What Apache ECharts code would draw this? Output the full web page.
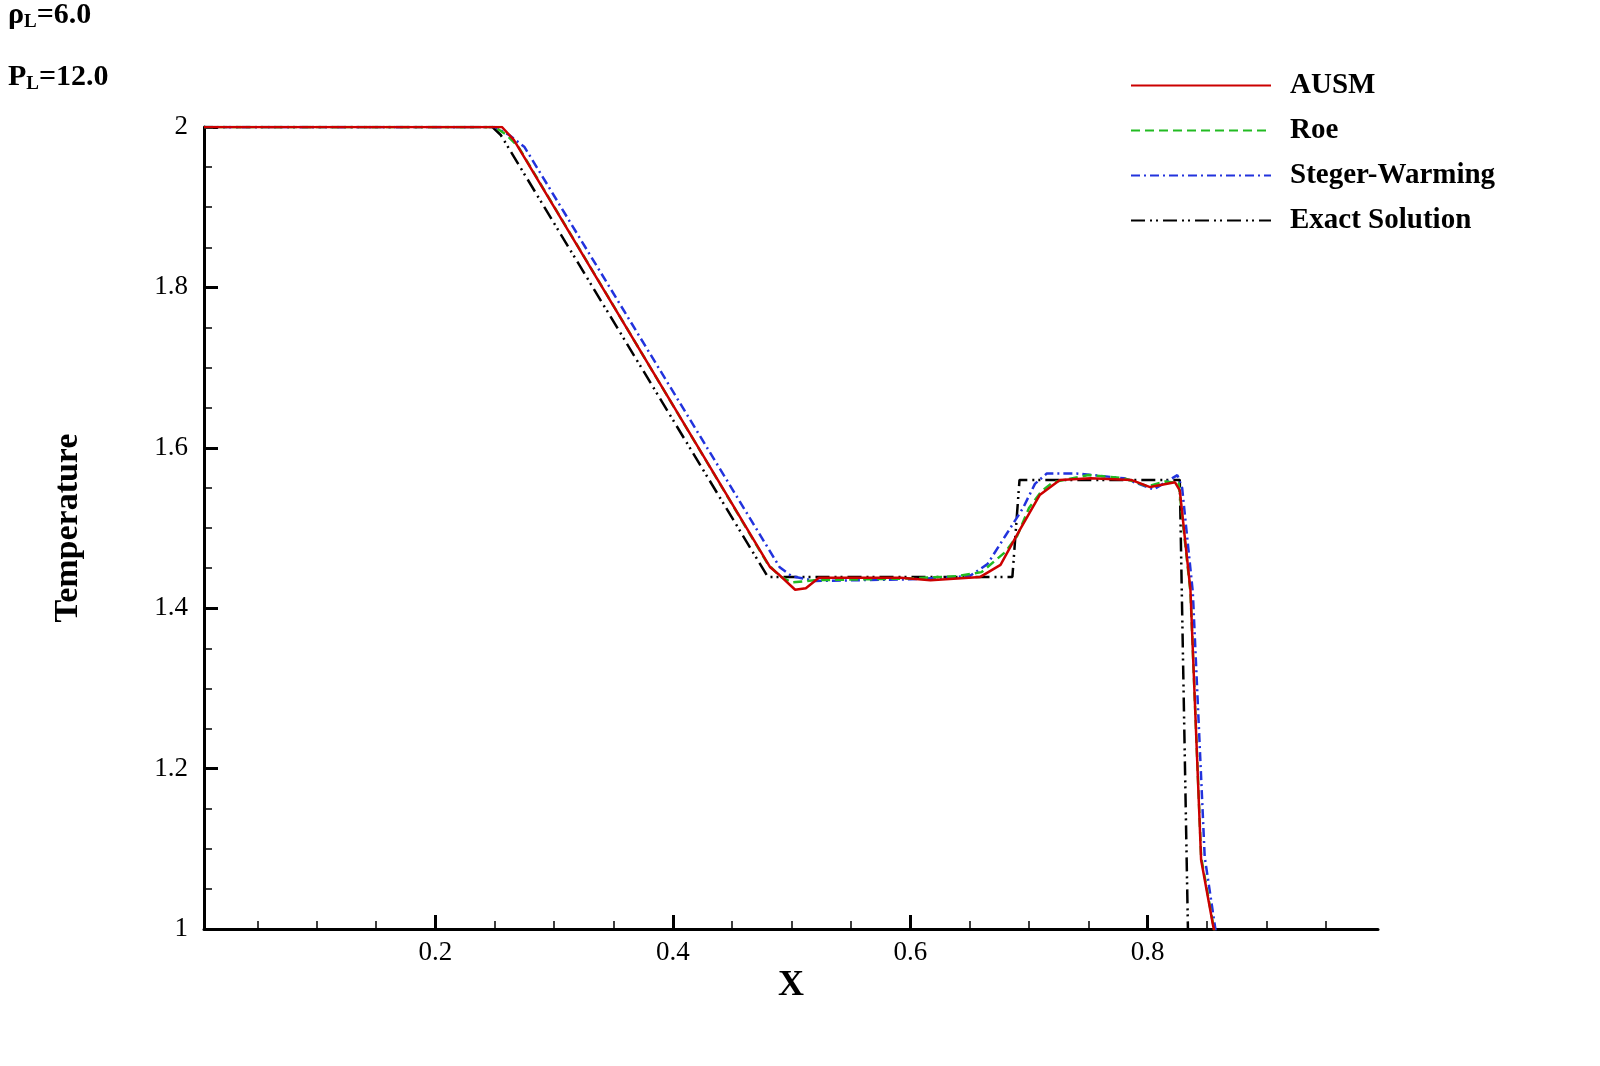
<!DOCTYPE html>
<html><head><meta charset="utf-8">
<script src="https://cdn.jsdelivr.net/npm/echarts@6/dist/echarts.min.js"></script>
<style>html,body{margin:0;padding:0;background:#fff}#c{width:1600px;height:1066px}</style>
</head><body><div id="c"></div>
<script>
const xExact=[0.005,0.248,0.255,0.480,0.686,0.692,0.827,0.834];
const yExact=[2.0,2.0,1.99,1.439,1.439,1.560,1.560,0.99];
const xAUSM=[0.005,0.256,0.266,0.482,0.490,0.503,0.512,0.523,0.592,0.617,0.659,0.676,0.692,0.709,0.726,0.752,0.786,0.802,0.823,0.827,0.836,0.845,0.855,0.857];
const yAUSM=[2.0,2.0,1.984,1.451,1.441,1.423,1.425,1.438,1.438,1.435,1.439,1.454,1.497,1.541,1.560,1.562,1.560,1.551,1.557,1.547,1.423,1.086,1.005,0.99];
const xRoe=[0.005,0.25,0.26,0.27,0.48,0.49,0.50,0.52,0.60,0.64,0.66,0.68,0.69,0.70,0.71,0.72,0.75,0.78,0.80,0.815,0.826,0.836,0.845,0.857];
const yRoe=[2.0,2.0,1.99,1.975,1.455,1.44,1.432,1.435,1.437,1.44,1.445,1.47,1.49,1.525,1.545,1.557,1.566,1.562,1.552,1.558,1.556,1.42,1.09,0.99];
const xSW=[0.005,0.25,0.262,0.275,0.49,0.50,0.52,0.60,0.65,0.665,0.68,0.695,0.705,0.715,0.74,0.78,0.805,0.825,0.829,0.838,0.848,0.858];
const ySW=[2.0,2.0,1.99,1.975,1.451,1.44,1.434,1.436,1.44,1.455,1.49,1.525,1.555,1.568,1.568,1.562,1.548,1.566,1.55,1.42,1.09,0.99];
const xTicks=[0.2,0.4,0.6,0.8];
const xMinor=[0.05,0.1,0.15,0.25,0.3,0.35,0.45,0.5,0.55,0.65,0.7,0.75,0.85,0.9,0.95];
const pairs=(a,b)=>a.map((v,i)=>[v,b[i]]);
const F='"Liberation Serif","DejaVu Serif",serif';
const chart=echarts.init(document.getElementById('c'));
chart.setOption({
  animation:false,
  grid:{left:204,right:222,top:127,bottom:137},
  xAxis:[{type:'value',min:0.005,max:0.994,
    axisLine:{lineStyle:{color:'#000',width:3}},
    axisTick:{inside:true,length:14,customValues:xTicks,lineStyle:{color:'#000',width:3}},
    axisLabel:{customValues:xTicks,color:'#000',fontFamily:F,fontSize:27,margin:10,formatter:v=>v.toFixed(1)},
    splitLine:{show:false}},
   {type:'value',min:0.005,max:0.994,position:'bottom',
    axisLine:{show:false},
    axisTick:{inside:true,length:8,customValues:xMinor,lineStyle:{color:'#000',width:1.5}},
    axisLabel:{show:false},splitLine:{show:false}}],
  yAxis:{type:'value',min:1,max:2,interval:0.2,
    axisLine:{show:true,lineStyle:{color:'#000',width:3}},
    axisTick:{show:true,inside:true,length:14,lineStyle:{color:'#000',width:3}},
    minorTick:{show:true,splitNumber:4,length:8,lineStyle:{color:'#000',width:1.5}},
    axisLabel:{color:'#000',fontFamily:F,fontSize:27,margin:16,formatter:v=>String(+v.toFixed(1))},
    splitLine:{show:false}},
  legend:{orient:'vertical',left:1125,top:66,itemWidth:140,itemHeight:14,itemGap:16,
    itemStyle:{color:'transparent',borderWidth:0},
    textStyle:{fontFamily:F,fontSize:29,fontWeight:'bold',color:'#000',padding:[0,0,0,14]},
    data:['AUSM','Roe','Steger-Warming','Exact Solution']},
  graphic:[
    {type:'text',left:8,top:0,style:{rich:{a:{fontFamily:F,fontSize:30,fontWeight:'bold'},s:{fontFamily:F,fontSize:19,fontWeight:'bold',verticalAlign:'bottom',padding:[14,0,0,0]}},text:'{a|ρ}{s|L}{a|=6.0}',fill:'#000'}},
    {type:'text',left:8,top:62,style:{rich:{a:{fontFamily:F,fontSize:30,fontWeight:'bold'},s:{fontFamily:F,fontSize:19,fontWeight:'bold',verticalAlign:'bottom',padding:[14,0,0,0]}},text:'{a|P}{s|L}{a|=12.0}',fill:'#000'}},
    {type:'text',x:68,y:528,rotation:Math.PI/2,style:{text:'Temperature',fontFamily:F,fontSize:34,fontWeight:'bold',fill:'#000',align:'center',verticalAlign:'middle'}},
    {type:'text',x:791,y:986,style:{text:'X',fontFamily:F,fontSize:36,fontWeight:'bold',fill:'#000',align:'center',verticalAlign:'middle'}}
  ],
  series:[
    {name:'AUSM',type:'line',showSymbol:false,symbol:'none',data:pairs(xAUSM,yAUSM),lineStyle:{color:'#cc0000',width:2.5},itemStyle:{color:'#cc0000'},z:5},
    {name:'Roe',type:'line',showSymbol:false,symbol:'none',data:pairs(xRoe,yRoe),lineStyle:{color:'#22bb22',width:2.5,type:[9,5]},itemStyle:{color:'#22bb22'},z:4},
    {name:'Steger-Warming',type:'line',showSymbol:false,symbol:'none',data:pairs(xSW,ySW),lineStyle:{color:'#2233dd',width:2.5,type:[9,4,2,4]},itemStyle:{color:'#2233dd'},z:3},
    {name:'Exact Solution',type:'line',showSymbol:false,symbol:'none',data:pairs(xExact,yExact),lineStyle:{color:'#000',width:2.5,type:[14,5,2,4,2,5]},itemStyle:{color:'#000'},z:2}
  ]
});
</script></body></html>
